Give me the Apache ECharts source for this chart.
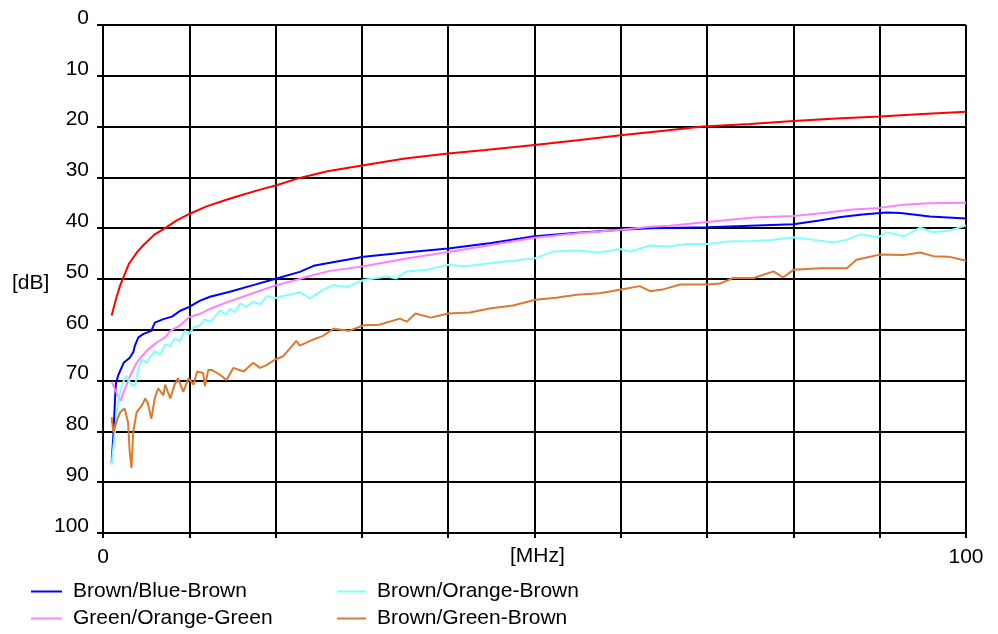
<!DOCTYPE html>
<html>
<head>
<meta charset="utf-8">
<script src="https://cdn.jsdelivr.net/npm/echarts@6/dist/echarts.min.js"></script>
<style>
  html, body { margin: 0; padding: 0; background: #fff; }
  #main { width: 998px; height: 634px; }
</style>
</head>
<body>
<div id="main"></div>
<script>
// [MHz, dB] pairs
let redLine = [[1,57.2],[1.5,54],[2,51.2],[3,47],[4,44.6],[4.7,43.3],[6,41.2],[7.2,40],[8.5,38.5],[10,37.2],[12,35.7],[14.3,34.4],[16,33.5],[18,32.5],[20,31.6],[22.8,30.1],[26,28.8],[30.2,27.6],[35,26.3],[40,25.3],[44.3,24.6],[50,23.6],[55,22.7],[60,21.7],[65,20.8],[69.5,20],[75,19.5],[80,18.9],[85,18.4],[90,18],[95,17.5],[100,17.1]];

let blueBrown = [[1,86.2],[1.2,80.8],[1.4,73.5],[1.5,70.5],[1.8,68.8],[2.4,66.5],[3.1,65.5],[3.5,64.4],[3.7,63.1],[4.1,61.5],[4.7,60.8],[5.6,60.2],[6,58.6],[7,57.9],[8,57.4],[8.9,56.3],[10,55.5],[11.2,54.3],[12.4,53.5],[14.7,52.5],[17.4,51.2],[19.9,50],[22.8,48.6],[24.4,47.4],[26.3,46.8],[30.2,45.6],[35,44.8],[40,44],[45,42.9],[50,41.6],[55,40.9],[60,40.3],[63.4,40],[70,39.8],[75,39.5],[80,39.2],[83,38.5],[85.5,37.8],[88,37.3],[90.8,36.9],[92.4,37],[93.9,37.3],[95.8,37.7],[100,38.1]];

let orangeGreen = [[1,70.2],[1.2,70.5],[1.6,72.5],[2,74],[2.5,71.8],[3.1,69.2],[3.9,66.5],[4.5,65.2],[5.2,63.9],[6.2,62.5],[7.2,61.5],[7.8,60.2],[8.9,59.2],[10,57.5],[11.2,56.9],[12.4,55.9],[14,54.8],[16.7,53.2],[19.9,51.3],[22.8,50],[24.4,49.2],[26.3,48.4],[30.2,47.5],[35,46],[40,44.7],[45,43.3],[50,41.9],[55,41],[60,40.3],[63.4,39.7],[65.7,39.5],[70,38.8],[75.4,37.9],[80,37.6],[83.5,37],[86.9,36.3],[90,36],[92.7,35.4],[95.8,35.1],[100,35]];

let orangeBrown = [[1,86.6],[1.4,79.7],[1.8,73.5],[2.2,70.8],[2.7,69.1],[3.3,70.8],[3.7,71.1],[4.1,67.8],[4.5,65.8],[5.1,66.5],[5.4,65.5],[6,64.2],[6.6,64.9],[7.2,62.9],[7.8,63.2],[8.3,61.7],[8.9,62.2],[9.5,60.2],[10,60.8],[10.5,59.5],[11.2,59.2],[11.8,57.9],[12.4,58.5],[13.6,56.2],[14.2,57],[14.7,55.9],[15.3,56.5],[15.9,54.8],[16.6,55.5],[17.4,54.5],[18.2,55],[19,53.4],[19.9,53.8],[21.3,53.2],[22.8,52.6],[24,53.8],[25.4,52.2],[26.7,51.2],[28.3,51.6],[30.2,50.2],[32.9,49.5],[34,49.9],[35.2,48.5],[37.5,48.2],[40,47.2],[42,47.5],[44.8,46.9],[47.5,46.4],[50.1,45.9],[52.2,44.6],[55,44.4],[57.5,44.8],[59.9,44.1],[61.1,44.6],[63.4,43.4],[65.5,43.6],[67.6,43.1],[70,43.1],[72.5,42.6],[75.4,42.5],[77.5,42.3],[80,41.8],[82,42.2],[84.6,42.8],[86.2,42.3],[87.7,41.2],[89.8,41.8],[90.8,40.8],[92.8,41.6],[94.7,39.9],[96.2,40.8],[98,40.5],[100,39.5]];

let greenBrown = [[1,77.2],[1.2,80.2],[1.6,77.9],[2,76.2],[2.5,75.5],[2.9,78.2],[3.1,84.2],[3.3,87.2],[3.5,80.2],[3.9,76.2],[4.5,74.9],[4.9,73.5],[5.2,74.5],[5.6,77.5],[6,73.5],[6.4,71.5],[7,72.9],[7.2,70.8],[7.8,73.5],[8.3,70.8],[8.7,69.5],[9.3,72.2],[9.9,69.5],[10.5,70.8],[10.9,68.2],[11.6,68.5],[11.8,71.1],[12.2,67.9],[12.6,67.9],[13.6,68.9],[14.3,69.9],[15.1,67.5],[16.3,68.2],[17.4,66.5],[18.2,67.5],[19,66.9],[19.9,65.9],[20.9,65.2],[22.4,62.2],[22.8,63.1],[24.4,61.9],[25.5,61.2],[26.7,59.8],[28.5,60.2],[30.2,59.1],[32,59],[34.4,57.8],[35.2,58.4],[36.2,56.8],[38,57.6],[40,56.8],[42.5,56.6],[44.8,55.8],[47.5,55.2],[50.1,54.1],[52.5,53.7],[54.9,53.1],[57.5,52.8],[59.9,52.1],[62.2,51.4],[63.4,52.4],[65,52],[66.9,51.1],[70,51.1],[71.5,50.9],[73,49.8],[75.4,49.8],[77.7,48.5],[78.8,49.7],[80,48.2],[83.1,47.9],[86.2,47.9],[87.3,46.2],[90,45.2],[92.7,45.3],[94.7,44.8],[96.2,45.5],[98,45.6],[100,46.4]];

let legendNames = ['Brown/Blue-Brown', 'Green/Orange-Green', 'Brown/Orange-Brown', 'Brown/Green-Brown'];

const FONT = '"Liberation Sans", Arial, sans-serif';
const txt = { fontFamily: FONT, fontSize: 21, color: '#000' };

function line(name, data, color) {
    return {
        name: name,
        type: 'line',
        data: data,
        showSymbol: false,
        symbol: 'none',
        color: color,
        lineStyle: { color: color, width: 2 }
    };
}

// one legend box per entry, two rows by two columns
function legendItem(name, left, top, w) {
    return {
        data: [name], left: left, top: top,
        icon: 'rect', itemWidth: w, itemHeight: 2,
        selectedMode: false, padding: 0,
        textStyle: Object.assign({ lineHeight: 21, padding: [2, 0, 0, 6] }, txt)
    };
}

let myChart = echarts.init(document.getElementById('main'));
let option = {
    animation: false,
    grid: { left: 103, right: 32, top: 25, bottom: 101 },
    legend: [
        legendItem(legendNames[0], 31, 580, 31),
        legendItem(legendNames[1], 31, 607, 31),
        legendItem(legendNames[2], 337, 580, 29),
        legendItem(legendNames[3], 337, 607, 29)
    ],
    xAxis: {
        type: 'value', min: 0, max: 100, interval: 10,
        axisLine: { onZero: false, lineStyle: { color: '#000', width: 2 } },
        axisTick: { show: true, length: 5, lineStyle: { color: '#000', width: 2 } },
        axisLabel: Object.assign({
            margin: 14,
            formatter: function (v) { return (v === 0 || v === 100) ? String(v) : ''; }
        }, txt),
        splitLine: { show: true, lineStyle: { color: '#000', width: 2 } }
    },
    yAxis: {
        type: 'value', min: 0, max: 100, interval: 10, inverse: true,
        axisLine: { lineStyle: { color: '#000', width: 2 } },
        axisTick: { show: true, length: 6, lineStyle: { color: '#000', width: 2 } },
        axisLabel: Object.assign({ margin: 14, verticalAlign: 'bottom', lineHeight: 14 }, txt),
        splitLine: { show: true, lineStyle: { color: '#000', width: 2 } }
    },
    graphic: [
        { type: 'text', left: 12, top: 273, style: { text: '[dB]', font: '21px ' + FONT, fill: '#000' } },
        { type: 'text', left: 510, top: 546, style: { text: '[MHz]', font: '21px ' + FONT, fill: '#000' } }
    ],
    series: [
        line('Line 20 dB', redLine, '#ff0000'),
        line('Brown/Blue-Brown', blueBrown, '#0000ff'),
        line('Green/Orange-Green', orangeGreen, '#ff80ff'),
        line('Brown/Orange-Brown', orangeBrown, '#80ffff'),
        line('Brown/Green-Brown', greenBrown, '#dc7832')
    ]
};
myChart.setOption(option);
</script>
</body>
</html>
